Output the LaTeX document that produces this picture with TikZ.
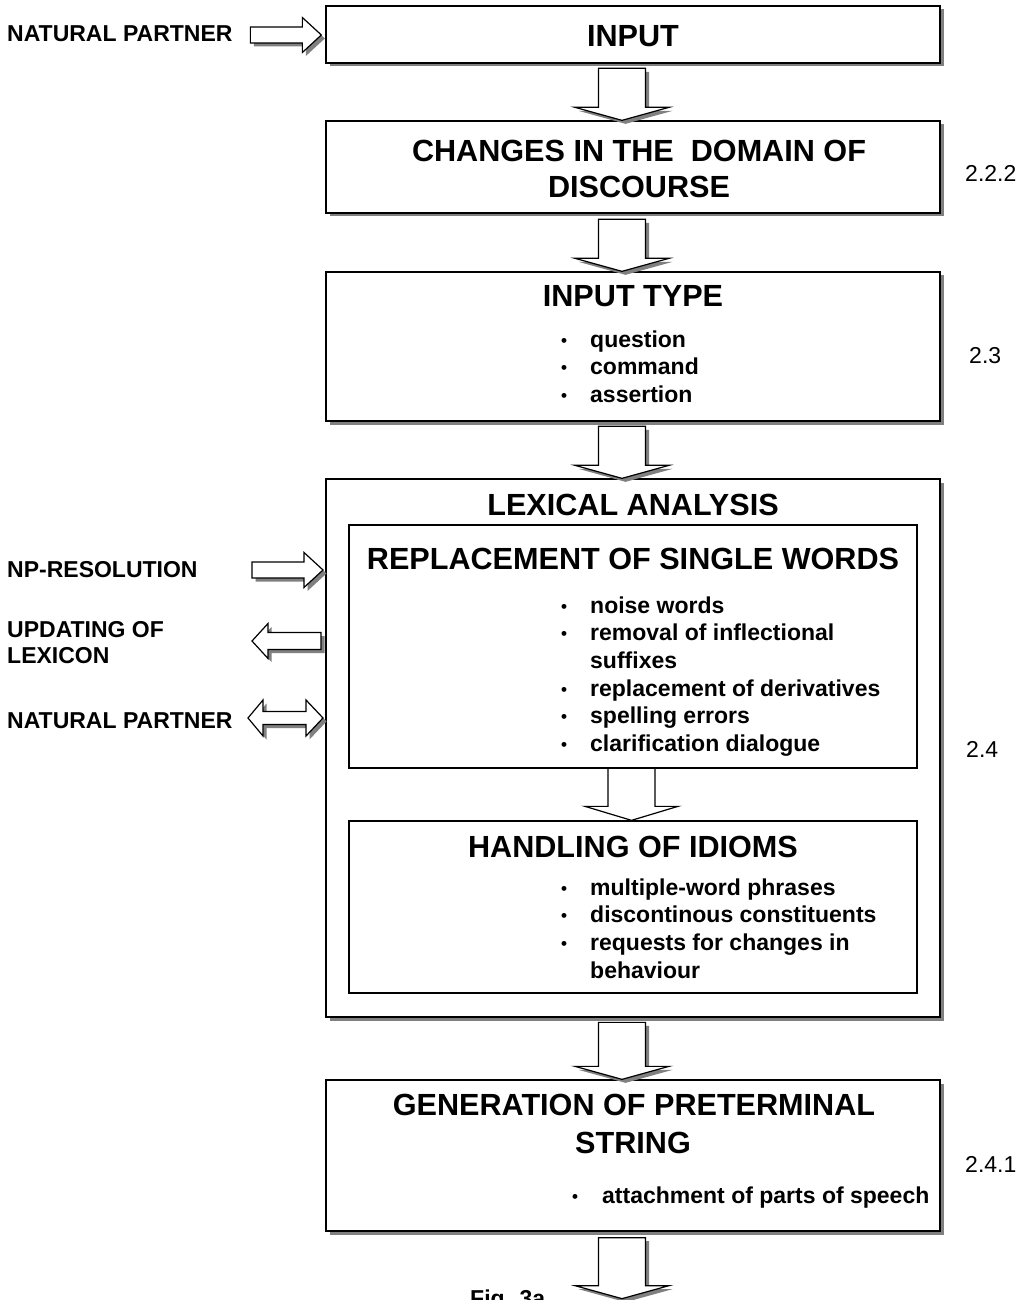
\documentclass[tikz,border=0pt]{standalone}
\usepackage{fontspec}
\setmainfont{Liberation Sans}
\usetikzlibrary{shadows,calc}
\tikzset{
 box/.style={draw, fill=white, line width=1.3bp, inner sep=0pt},
 shad/.style={drop shadow={shadow xshift=3.5bp, shadow yshift=-3.5bp, fill=black!50, opacity=1}},
 blk/.style={draw, fill=white, line width=1.2bp, line join=miter},
 ttl/.style={font=\fontsize{30.6bp}{36bp}\selectfont\bfseries, inner sep=0pt, anchor=base},
 itm/.style={font=\fontsize{23bp}{27.7bp}\selectfont\bfseries, inner sep=0pt, anchor=base west},
 num/.style={font=\fontsize{23bp}{27bp}\selectfont, inner sep=0pt, anchor=base west},
 pics/dnarrow/.style={code={\path[blk,shad] (-23.5,-#1) -- (23.5,-#1) -- (23.5,-13) -- (47,-13) -- (0,0) -- (-47,-13) -- (-23.5,-13) -- cycle;}},
 pics/dnarrowplain/.style={code={\path[blk] (-23.5,-#1) -- (23.5,-#1) -- (23.5,-14) -- (46.5,-14) -- (0,0) -- (-46.5,-14) -- (-23.5,-14) -- cycle;}},
 pics/rarrow/.style={code={\path[blk,shad] (-71,-8) -- (-19,-8) -- (-19,-17.5) -- (0,0) -- (-19,17.5) -- (-19,8) -- (-71,8) -- cycle;}},
 pics/larrow/.style={code={\path[blk,shad] (69,-8.5) -- (16,-8.5) -- (16,-17.5) -- (0,0) -- (16,17.5) -- (16,8.5) -- (69,8.5) -- cycle;}},
 pics/dblarrow/.style={code={\path[blk,shad] (0,0) -- (15,-18) -- (15,-6.5) -- (58,-6.5) -- (58,-18) -- (75,0) -- (58,18) -- (58,6.5) -- (15,6.5) -- (15,18) -- cycle;}},
}
\newcommand{\bul}{\raisebox{1bp}{\fontsize{17bp}{17bp}\selectfont\textbullet}}
\begin{document}
\begin{tikzpicture}[x=1bp,y=-1bp]
\useasboundingbox (0,0) rectangle (1019,1300);
\clip (0,0) rectangle (1019,1300);
\fill[white] (0,0) rectangle (1019,1300);

% main boxes
\node[box,shad, minimum width=614bp, minimum height=57bp] (input) at (633,34.5) {};
\node[box,shad, minimum width=614bp, minimum height=92bp] (chg) at (633,167) {};
\node[box,shad, minimum width=614bp, minimum height=149bp] (itype) at (633,346.5) {};
\node[box,shad, minimum width=614bp, minimum height=538bp] (lex) at (633,748) {};
\node[box, minimum width=568bp, minimum height=243bp] (repl) at (633,646.5) {};
\node[box, minimum width=568bp, minimum height=172bp] (idiom) at (633,907) {};
\node[box,shad, minimum width=614bp, minimum height=151bp] (gen) at (633,1155.5) {};

% block arrows between boxes
\pic at ($(chg.north)+(-11,0)$) {dnarrow=52};
\pic at ($(itype.north)+(-11,0)$) {dnarrow=52};
\pic at ($(lex.north)+(-11,0)$) {dnarrow=52};
\pic at ($(idiom.north)+(-1.5,0)$) {dnarrowplain=52};
\pic at ($(gen.north)+(-11,0)$) {dnarrow=57};
\coordinate (outend) at ($(gen.south)+(-11,67)$);
\pic at (outend) {dnarrow=61};

% texts in boxes
\node[ttl] (tinput) at (633,47) {INPUT};
\node[ttl] (tchg1) at (639,162) {CHANGES IN THE\ \ DOMAIN OF};
\node[ttl] (tchg2) at (639,198) {DISCOURSE};
\node[ttl] (titype) at (633,307) {INPUT TYPE};
\node[itm] (litype) at (561,347) {\begin{tabular}[t]{@{}p{29bp}@{}l@{}}\bul&question\\\bul&command\\\bul&assertion\end{tabular}};
\node[ttl] (tlex) at (633,515) {LEXICAL ANALYSIS};
\node[ttl] (trepl) at (633,569) {REPLACEMENT OF SINGLE WORDS};
\node[itm] (lrepl) at (561,613) {\begin{tabular}[t]{@{}p{29bp}@{}l@{}}\bul&noise words\\\bul&removal of inflectional\\&suffixes\\\bul&replacement of derivatives\\\bul&spelling errors\\\bul&clarification dialogue\end{tabular}};
\node[ttl] (tidiom) at (633,857) {HANDLING OF IDIOMS};
\node[itm] (lidiom) at (561,895) {\begin{tabular}[t]{@{}p{29bp}@{}l@{}}\bul&multiple-word phrases\\\bul&discontinous constituents\\\bul&requests for changes in\\&behaviour\end{tabular}};
\node[ttl] (tgen1) at (634,1115) {GENERATION OF PRETERMINAL};
\node[ttl] (tgen2) at (633,1153) {STRING};
\node[itm] (lgen) at (572,1203) {\begin{tabular}[t]{@{}p{30bp}@{}l@{}}\bul&attachment of parts of speech\end{tabular}};

% section numbers
\node[num] (n222) at (965,182) {2.2.2};
\node[num] (n23) at (969,363) {2.3};
\node[num] (n24) at (966,757) {2.4};
\node[num] (n241) at (965,1172) {2.4.1};

% left side labels and arrows
\node[itm] (np1) at (7,42) {NATURAL PARTNER};
\pic at ($(input.west)+(-4,0.5)$) {rarrow};
\node[itm] (npres) at (7,577) {NP-RESOLUTION};
\coordinate (nprtip) at (323,570);
\pic at (nprtip) {rarrow};
\node[itm] (upd1) at (7,637) {UPDATING OF};
\node[itm] (upd2) at (7,663) {LEXICON};
\coordinate (updtip) at (252,641);
\pic at (updtip) {larrow};
\node[itm] (np2) at (7,728) {NATURAL PARTNER};
\coordinate (np2tip) at (248,718);
\pic at (np2tip) {dblarrow};

% caption (cut off at the bottom, as in the reference)
\node[itm] (fig) at (470,1306.5) {Fig. 3a};
\end{tikzpicture}
\end{document}
